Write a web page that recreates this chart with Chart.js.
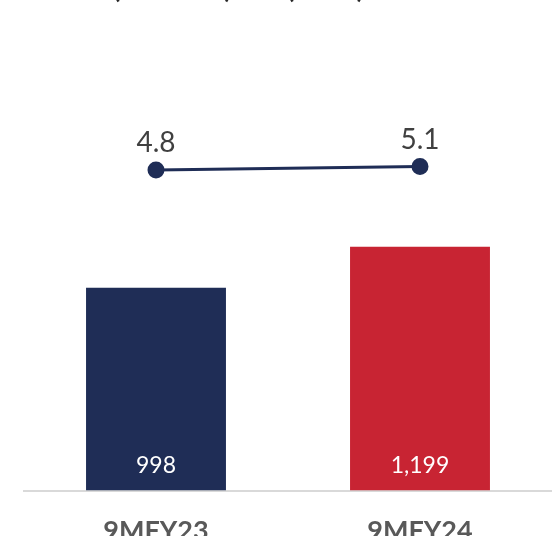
<!DOCTYPE html>
<html>
<head>
<meta charset="utf-8">
<script src="https://cdn.jsdelivr.net/npm/chart.js@4"></script>
<style>
  html, body { margin: 0; padding: 0; background: #ffffff; overflow: hidden; }
  #wrap { width: 552px; height: 536px; position: relative; overflow: hidden; }
  #c { position: absolute; left: 0; top: 0; }
</style>
</head>
<body>
<div id="wrap"><canvas id="c" width="552" height="571"></canvas></div>
<script>
// Periods on the x axis
const periods = ['9MFY23', '9MFY24'];
// Amount per period (bars)
const amountValues = [998, 1199];
// Ratio per period (line)
const ratioValues = [4.8, 5.1];
// Heading text
const titleText = '(Rs. Crore) and (times)';

const NAVY = '#1f2d56';
const RED = '#c82433';
const FONT = 'Lato, "Open Sans", "DejaVu Sans", sans-serif';

const fmtAmount = v => v.toLocaleString('en-US');
const fmtRatio = v => v.toFixed(1);

// Draws the value labels: amounts inside the bar foot, ratios above the points
const valueLabels = {
  id: 'valueLabels',
  afterDatasetsDraw(chart) {
    const ctx = chart.ctx;
    ctx.save();
    chart.data.datasets.forEach((ds, i) => {
      const meta = chart.getDatasetMeta(i);
      meta.data.forEach((el, j) => {
        const v = ds.data[j];
        ctx.textAlign = 'center';
        ctx.textBaseline = 'alphabetic';
        if (ds.type === 'bar') {
          ctx.font = '23px ' + FONT;
          ctx.fillStyle = '#ffffff';
          ctx.fillText(fmtAmount(v), el.x, el.base - 18);
        } else {
          ctx.font = '28px ' + FONT;
          ctx.fillStyle = '#404040';
          ctx.fillText(fmtRatio(v), el.x, el.y - 18);
        }
      });
    });
    ctx.restore();
  }
};

// Heading sitting mostly above the visible canvas edge
const heading = {
  id: 'heading',
  afterDraw(chart) {
    const ctx = chart.ctx;
    ctx.save();
    ctx.font = 'bold 26px ' + FONT;
    ctx.fillStyle = '#262626';
    ctx.textAlign = 'left';
    ctx.textBaseline = 'alphabetic';
    ctx.fillText(titleText, 113, -2);
    ctx.restore();
  }
};

new Chart(document.getElementById('c'), {
  data: {
    labels: periods,
    datasets: [
      {
        type: 'line',
        data: ratioValues,
        yAxisID: 'y1',
        order: 0,
        borderColor: NAVY,
        borderWidth: 3,
        backgroundColor: NAVY,
        pointBackgroundColor: NAVY,
        pointBorderColor: NAVY,
        pointRadius: 7,
        pointHoverRadius: 7,
        tension: 0
      },
      {
        type: 'bar',
        data: amountValues,
        yAxisID: 'y',
        order: 1,
        backgroundColor: [NAVY, RED],
        borderWidth: 0,
        categoryPercentage: 0.53,
        barPercentage: 1
      }
    ]
  },
  options: {
    responsive: false,
    animation: false,
    layout: {
      autoPadding: false,
      padding: { left: 24, right: 0, top: 84, bottom: 0 }
    },
    plugins: {
      legend: { display: false },
      tooltip: { enabled: false },
      title: { display: false }
    },
    scales: {
      x: {
        type: 'category',
        offset: true,
        grid: { display: false, drawTicks: false },
        border: { display: true, color: '#d9d9d9', width: 2 },
        ticks: {
          padding: 24,
          color: '#595959',
          font: { family: FONT, size: 27, weight: 'bold' }
        }
      },
      y: {
        display: false,
        min: 0,
        max: 2000
      },
      y1: {
        display: false,
        position: 'right',
        min: -22,
        max: 12
      }
    }
  },
  plugins: [valueLabels, heading]
});
</script>
</body>
</html>
